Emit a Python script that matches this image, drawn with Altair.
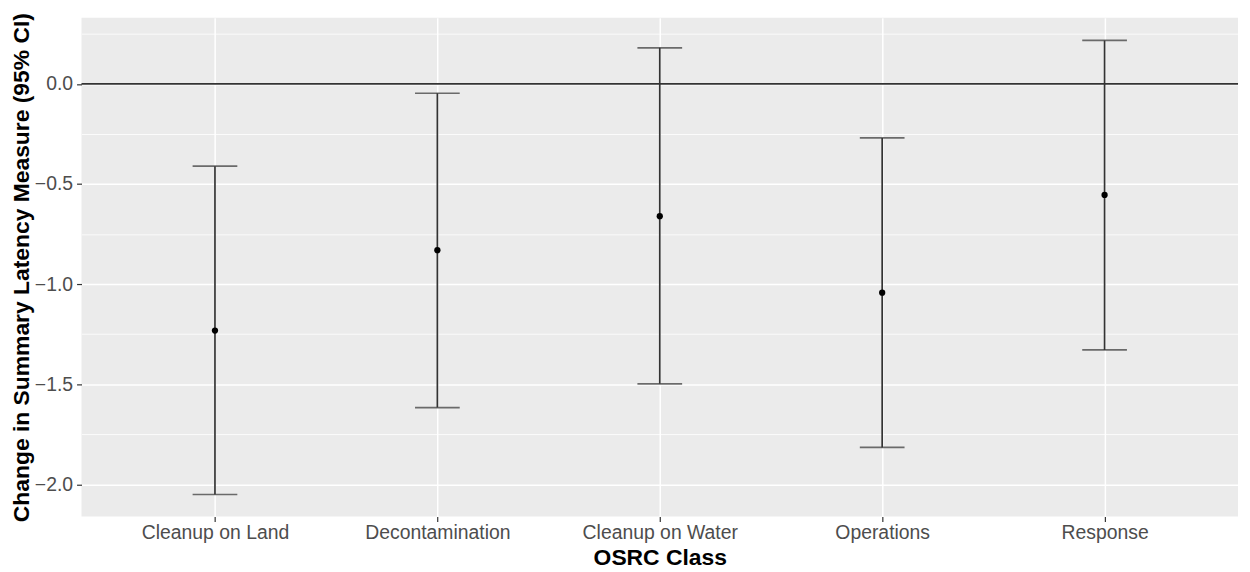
import altair as alt
import pandas as pd

categories = ["Cleanup on Land", "Decontamination", "Cleanup on Water", "Operations", "Response"]
estimate = [-1.232, -0.831, -0.661, -1.043, -0.555]
lower = [-2.051, -1.617, -1.498, -1.816, -1.329]
upper = [-0.411, -0.047, 0.180, -0.270, 0.217]
y_breaks = [0.25, 0.0, -0.25, -0.5, -0.75, -1.0, -1.25, -1.5, -1.75, -2.0]
ref_line = [0.0]

df = pd.DataFrame({"cls": categories, "est": estimate, "lo": lower, "hi": upper})
ref = pd.DataFrame({"est": ref_line})

FONT = "Liberation Sans"
Y_TITLE = "Change in Summary Latency Measure (95% CI)"
minor_test = "abs(datum.value * 2 - round(datum.value * 2)) > 0.01"
LINE = "#333333"

x_enc = alt.X(
    "cls:N",
    sort=categories,
    scale=alt.Scale(type="point", padding=0.6),
    axis=alt.Axis(
        title="OSRC Class",
        labelAngle=0,
        grid=True,
        gridColor="white",
        gridWidth=1.5,
        tickSize=5,
        tickColor="#333333",
        tickWidth=1.2,
        labelPadding=2,
        titlePadding=5,
    ),
)

y_scale = alt.Scale(domain=[-2.161, 0.330], nice=False, zero=False)
y_axis = alt.Axis(
    title=Y_TITLE,
    values=y_breaks,
    labelExpr="abs(datum.value * 2 - round(datum.value * 2)) > 0.01 ? '' : format(datum.value, '.1f')",
    grid=True,
    gridColor="white",
    gridWidth={"condition": {"test": minor_test, "value": 0.8}, "value": 1.5},
    tickSize=5,
    tickColor="#333333",
    tickWidth=1.2,
    tickOpacity={"condition": {"test": minor_test, "value": 0}, "value": 1},
    labelPadding=4,
    titlePadding=1,
)

base = alt.Chart(df)

zero_line = alt.Chart(ref).mark_rule(color=LINE, strokeWidth=1.6).encode(
    y=alt.Y("est:Q", scale=y_scale, axis=y_axis, title=Y_TITLE)
)

bars = base.mark_rule(color=LINE, strokeWidth=1.7).encode(
    x=x_enc,
    y=alt.Y("lo:Q", scale=y_scale, title=Y_TITLE),
    y2="hi:Q",
)

cap_lo = base.mark_tick(color=LINE, size=45, thickness=1.7, orient="horizontal").encode(
    x=x_enc, y=alt.Y("lo:Q", scale=y_scale, title=Y_TITLE)
)
cap_hi = base.mark_tick(color=LINE, size=45, thickness=1.7, orient="horizontal").encode(
    x=x_enc, y=alt.Y("hi:Q", scale=y_scale, title=Y_TITLE)
)

points = base.mark_point(filled=True, color="black", size=40, opacity=1).encode(
    x=x_enc, y=alt.Y("est:Q", scale=y_scale, title=Y_TITLE)
)

chart = (
    alt.layer(zero_line, bars, cap_lo, cap_hi, points)
    .properties(
        width=1164,
        height=502,
        autosize=alt.AutoSizeParams(type="none"),
        padding={"left": 74, "top": 8, "right": 4, "bottom": 54},
        background="white",
    )
    .configure_view(fill="#EBEBEB", strokeWidth=0)
    .configure_axis(
        domain=False,
        labelFont=FONT,
        labelFontSize=19.5,
        labelColor="#4D4D4D",
        titleFont=FONT,
        titleFontSize=23,
        titleFontWeight="bold",
        titleColor="black",
    )
)

chart.save("out.html", embed_options={"renderer": "svg", "actions": False})
